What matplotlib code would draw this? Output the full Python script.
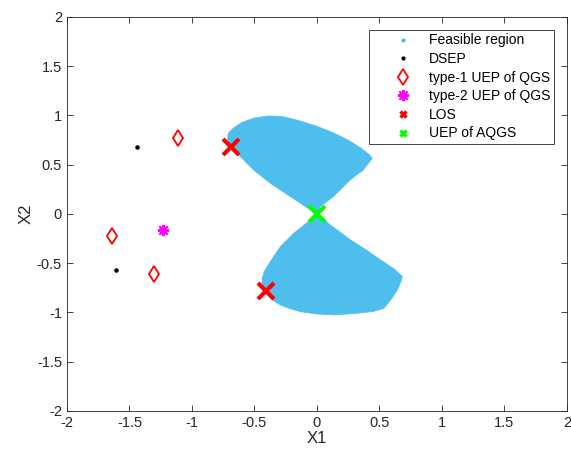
import matplotlib
matplotlib.use("Agg")
import matplotlib.pyplot as plt
from matplotlib.lines import Line2D

plt.rcParams['font.family'] = ['Liberation Sans', 'DejaVu Sans']

# feasible region outline (two lobes meeting at the origin)
upper_x = [0.00, 0.025, 0.13, 0.265, 0.37, 0.442, 0.42, 0.35, 0.25, 0.12, 0.0, -0.15,
           -0.28, -0.39, -0.5, -0.6, -0.67, -0.71, -0.715, -0.695, -0.613, -0.507,
           -0.373, -0.212, -0.052]
upper_y = [0.00, 0.074, 0.176, 0.345, 0.447, 0.565, 0.60, 0.67, 0.75, 0.83, 0.89, 0.95,
           0.99, 0.995, 0.975, 0.93, 0.87, 0.82, 0.76, 0.67, 0.582, 0.447,
           0.312, 0.176, 0.041]
lower_x = [0.00, 0.108, 0.269, 0.40, 0.509, 0.62, 0.683, 0.67, 0.643, 0.59, 0.535,
           0.45, 0.322, 0.135, 0.0, -0.132, -0.22, -0.293, -0.36, -0.413, -0.44,
           -0.439, -0.42, -0.399, -0.35, -0.293, -0.186, -0.052]
lower_y = [0.00, -0.112, -0.264, -0.37, -0.467, -0.56, -0.637, -0.69, -0.772, -0.87,
           -0.957, -0.99, -1.008, -1.025, -1.015, -0.992, -0.96, -0.924, -0.87, -0.80,
           -0.72, -0.653, -0.58, -0.535, -0.44, -0.332, -0.196, -0.061]

# equilibrium points
dsep_x = [-1.44, -1.61]
dsep_y = [0.685, -0.57]
uep1_x = [-1.11, -1.64, -1.30]
uep1_y = [0.775, -0.226, -0.606]
uep2_x = [-1.23]
uep2_y = [-0.162]
los_x = [-0.687, -0.41]
los_y = [0.677, -0.779]
aqgs_x = [0.0]
aqgs_y = [0.0]

blue = '#4DBEEE'

fig = plt.figure(figsize=(5.71, 4.59), dpi=100)
ax = fig.add_axes([0.1173, 0.1046, 0.8757, 0.8584])

ax.fill(upper_x, upper_y, color=blue, lw=0.5, ec=blue)
ax.fill(lower_x, lower_y, color=blue, lw=0.5, ec=blue)

ax.plot(dsep_x, dsep_y, 'k.', ms=4.5)
ax.plot(uep1_x, uep1_y, 'd', mfc='none', mec='red', ms=8, mew=1.3)
ax.plot(uep2_x, uep2_y, ls='none', marker=(8, 2, 0), color='magenta', ms=8, mew=1.5)
ax.plot(los_x, los_y, 'x', color='red', ms=11, mew=3)
ax.plot(aqgs_x, aqgs_y, 'x', color='#00FF00', ms=11, mew=3)

handles = [
    Line2D([], [], ls='none', marker='.', color=blue, ms=4),
    Line2D([], [], ls='none', marker='.', color='k', ms=4),
    Line2D([], [], ls='none', marker='d', mfc='none', mec='red', ms=8, mew=1.3),
    Line2D([], [], ls='none', marker=(8, 2, 0), color='magenta', ms=8, mew=1.5),
    Line2D([], [], ls='none', marker='x', color='red', ms=5, mew=2.5),
    Line2D([], [], ls='none', marker='x', color='#00FF00', ms=5, mew=2.5),
]
labels = ['Feasible region', 'DSEP', 'type-1 UEP of QGS', 'type-2 UEP of QGS',
          'LOS', 'UEP of AQGS']
leg = ax.legend(handles, labels, loc='upper right', bbox_to_anchor=(0.974, 0.967),
                fontsize=10, fancybox=False, framealpha=1, edgecolor='#262626',
                borderpad=0.25, labelspacing=0.33, handletextpad=-0.4, handlelength=4.5,
                borderaxespad=0)
leg.get_frame().set_linewidth(0.6)

ax.set_xlim(-2, 2)
ax.set_ylim(-2, 2)
ticks = [-2, -1.5, -1, -0.5, 0, 0.5, 1, 1.5, 2]
tick_labels = ['-2', '-1.5', '-1', '-0.5', '0', '0.5', '1', '1.5', '2']
ax.set_xticks(ticks)
ax.set_xticklabels(tick_labels)
ax.set_yticks(ticks)
ax.set_yticklabels(tick_labels)
ax.tick_params(direction='in', top=True, right=True, labelsize=10.5,
               colors='#262626', length=4, width=0.6)
for s in ax.spines.values():
    s.set_linewidth(0.6)
    s.set_color('#262626')

ax.set_xlabel('X1', fontsize=12, color='#262626', labelpad=1)
ax.set_ylabel('X2', fontsize=12, color='#262626', labelpad=2)

fig.savefig('out.png', dpi=100)
